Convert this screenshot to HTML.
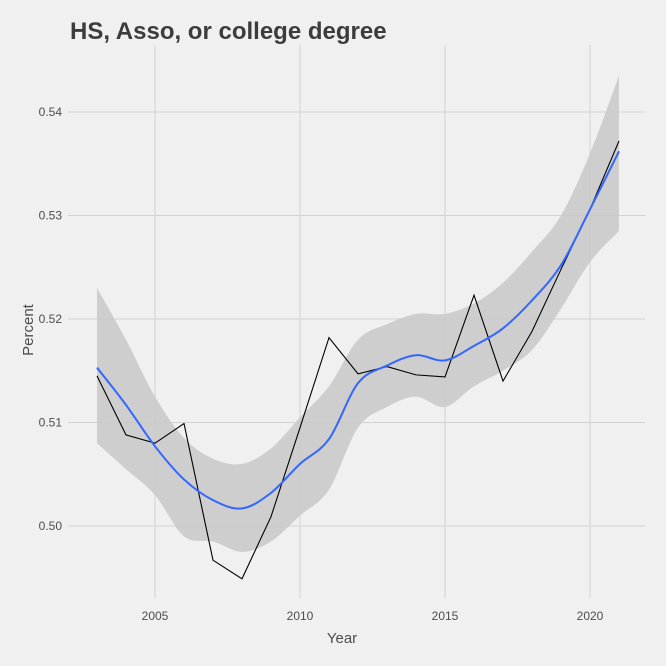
<!DOCTYPE html>
<html><head><meta charset="utf-8"><style>
body{margin:0;background:#f0f0f0;}
svg{display:block;font-family:"Liberation Sans",sans-serif;}
</style></head><body>
<svg id="chart" width="666" height="666">
<rect width="666" height="666" fill="#f0f0f0"/>
<text x="70" y="39" font-size="24" font-weight="bold" fill="#3c3c3c">HS, Asso, or college degree</text>
<g id="grid"></g>
<g id="marks"></g>
<g id="axes"></g>
<text x="342" y="643" font-size="15" fill="#4d4d4d" text-anchor="middle">Year</text>
<text transform="translate(33,330) rotate(-90)" font-size="15" fill="#4d4d4d" text-anchor="middle">Percent</text>
</svg>
<script>
const years=[2003,2004,2005,2006,2007,2008,2009,2010,2011,2012,2013,2014,2015,2016,2017,2018,2019,2020,2021];
const actual=[0.5145,0.5088,0.5080,0.5099,0.4967,0.4949,0.5009,0.5095,0.5182,0.5147,0.5154,0.5146,0.5144,0.5223,0.5140,0.5188,0.5248,0.5306,0.5372];
const smooth=[0.5153,0.5117,0.5077,0.5045,0.5025,0.5017,0.5032,0.5060,0.5084,0.5138,0.5155,0.5165,0.5160,0.5174,0.5191,0.5218,0.5252,0.5306,0.5362];
const upper=[0.523,0.518,0.5125,0.5085,0.5065,0.506,0.5075,0.5105,0.5135,0.518,0.5195,0.5205,0.5205,0.5215,0.5235,0.5265,0.530,0.536,0.5435];
const lower=[0.508,0.5055,0.503,0.499,0.4985,0.4975,0.4985,0.501,0.5035,0.5095,0.5115,0.5125,0.5115,0.5135,0.515,0.517,0.521,0.5255,0.5285];
const xTicks=[2005,2010,2015,2020];
const yTicks=[0.50,0.51,0.52,0.53,0.54];
const yTickLabels=["0.50","0.51","0.52","0.53","0.54"];
const X=v=>155+(v-2005)*29;
const Y=v=>526-(v-0.50)*10350;
const NS="http://www.w3.org/2000/svg";
function mk(p,t,a){const e=document.createElementNS(NS,t);for(const k in a)e.setAttribute(k,a[k]);document.getElementById(p).appendChild(e);return e;}
xTicks.forEach((t,i)=>{
 const l=mk('grid','line',{x1:X(t),x2:X(t),y1:45,y2:598,stroke:'#d2d2d2','stroke-width':1});
 
 
 const tx=mk('axes','text',{x:X(t),y:620,'font-size':12,fill:'#4d4d4d','text-anchor':'middle'});
 tx.textContent=t;
 
 
});
yTicks.forEach((t,i)=>{
 const l=mk('grid','line',{x1:68,x2:645,y1:Y(t),y2:Y(t),stroke:'#d2d2d2','stroke-width':1});
 
 
 const tx=mk('axes','text',{x:62,y:Y(t)+4,'font-size':12,fill:'#4d4d4d','text-anchor':'end'});
 tx.textContent=yTickLabels[i];
 
 
});
function smoothPath(xs,ys){
 let d='M'+xs[0]+','+ys[0];
 for(let i=0;i<xs.length-1;i++){
  const x0=xs[Math.max(i-1,0)],y0=ys[Math.max(i-1,0)],x1=xs[i],y1=ys[i],x2=xs[i+1],y2=ys[i+1],x3=xs[Math.min(i+2,xs.length-1)],y3=ys[Math.min(i+2,xs.length-1)];
  d+=' C'+(x1+(x2-x0)/6)+','+(y1+(y2-y0)/6)+' '+(x2-(x3-x1)/6)+','+(y2-(y3-y1)/6)+' '+x2+','+y2;
 }
 return d;
}
const xs=years.map(X);
const up=smoothPath(xs,upper.map(Y));
const lr=[...xs].reverse(), lw=[...lower].reverse().map(Y);
const lo=smoothPath(lr,lw).replace(/^M/,' L');
const band=mk('marks','path',{d:up+lo+' Z',fill:'#c8c8c8','fill-opacity':0.85});


const act=mk('marks','polyline',{points:years.map((y,i)=>X(y)+','+Y(actual[i])).join(' '),fill:'none',stroke:'#000','stroke-width':1.1});


const sm=mk('marks','path',{d:smoothPath(xs,smooth.map(Y)),fill:'none',stroke:'#3366ff','stroke-width':2});


</script>
</body></html>
